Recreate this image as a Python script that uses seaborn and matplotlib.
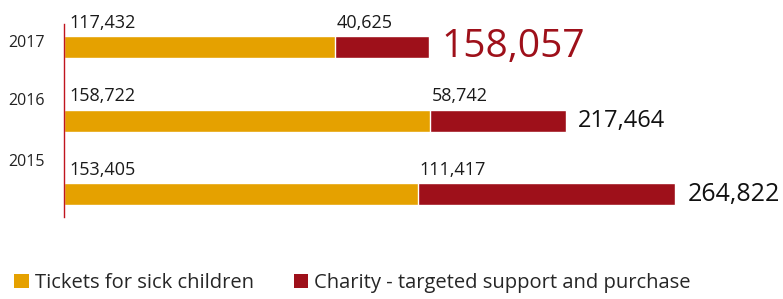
import matplotlib
matplotlib.use("Agg")
import matplotlib.pyplot as plt
from matplotlib.patches import Patch
import pandas as pd
import seaborn as sns

# data
years    = ["2017", "2016", "2015"]
tickets  = [117432, 158722, 153405]
charity  = [40625, 58742, 111417]
totals   = [158057, 217464, 264822]
series   = ["Tickets for sick children", "Charity - targeted support and purchase"]

YELLOW = "#E5A100"
RED    = "#9E101A"

sns.set_theme(style="white")
plt.rcParams["font.family"] = ["Open Sans", "DejaVu Sans"]

df = pd.DataFrame({"year": years, "tickets": tickets, "charity": charity, "total": totals})

fig = plt.figure(figsize=(7.83, 2.99), dpi=100)
ax = fig.add_axes([0.0817, 0.274, 0.884, 0.6455])

# stacked: total (red) underneath, tickets (yellow) on top
sns.barplot(data=df, x="total", y="year", order=years, color=RED,
            width=0.30, saturation=1, ax=ax)
sns.barplot(data=df, x="tickets", y="year", order=years, color=YELLOW,
            width=0.30, saturation=1, ax=ax)

ax.set_xlim(0, 300000)
ax.set_ylim(2.313, -0.313)
ax.set_xlabel("")
ax.set_ylabel("")
ax.set_xticks([])
ax.set_yticks([])
for s in ["top", "right", "bottom"]:
    ax.spines[s].set_visible(False)
ax.spines["left"].set_color("#C0141E")
ax.spines["left"].set_linewidth(1.0)

# year labels sit a bit above the bars, drifting upward
year_dy = [0.05, 0.26, 0.44]
for i, (yr, dy) in enumerate(zip(years, year_dy)):
    ax.annotate(yr, xy=(0, i - dy), xytext=(-14, 0), textcoords="offset points",
                ha="right", va="center", fontsize=11.5, color="#222222")

# segment labels above bars
for i in range(len(years)):
    ax.annotate(f"{tickets[i]:,}", xy=(0, i - 0.15), xytext=(4, 3),
                textcoords="offset points", ha="left", va="bottom",
                fontsize=13, color="#1a1a1a")
    ax.annotate(f"{charity[i]:,}", xy=(tickets[i], i - 0.15), xytext=(1, 3),
                textcoords="offset points", ha="left", va="bottom",
                fontsize=13, color="#1a1a1a")

# totals at bar ends; latest year highlighted
total_size  = [28, 17, 18]
total_color = [RED, "#111111", "#111111"]
for i in range(len(years)):
    ax.annotate(f"{totals[i]:,}", xy=(totals[i], i), xytext=(9, 0),
                textcoords="offset points", ha="left", va="center",
                fontsize=total_size[i], color=total_color[i])

handles = [Patch(facecolor=YELLOW, edgecolor="none"), Patch(facecolor=RED, edgecolor="none")]
fig.legend(handles, series, loc="lower left", bbox_to_anchor=(0.003, -0.02),
           ncol=2, frameon=False, fontsize=14.5, handlelength=0.7, handleheight=0.7,
           handletextpad=0.3, columnspacing=2.0, borderaxespad=0.2)

fig.savefig("out.png", dpi=100)
